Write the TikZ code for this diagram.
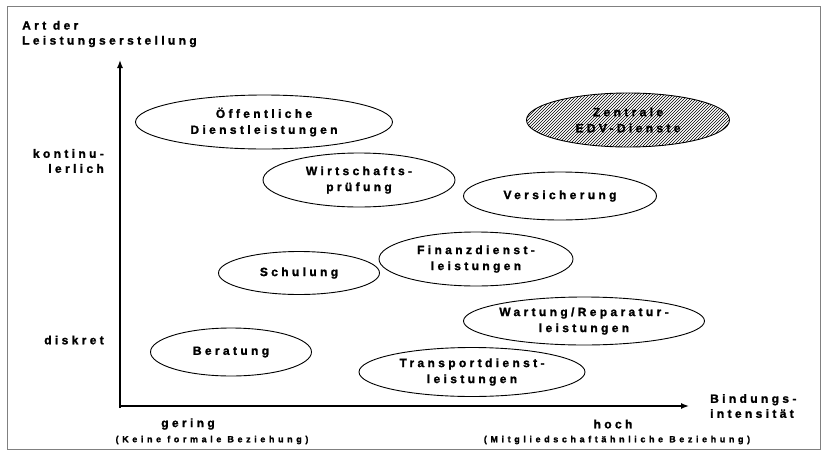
\documentclass[tikz,border=0pt]{standalone}
\usepackage{fontspec}
\setmainfont{Liberation Sans}[UprightFont={* Bold},BoldFont={* Bold},LetterSpace=28,FakeBold=1.5]
\newfontfamily\smallfont{Liberation Sans}[UprightFont={* Bold},BoldFont={* Bold},LetterSpace=40,FakeBold=1.5]
\usetikzlibrary{shapes.geometric,arrows.meta,patterns}
\begin{document}
\begin{tikzpicture}[x=1pt,y=-1pt,
  lbl/.style={font=\fontsize{12}{15}\selectfont,inner sep=0pt,align=center},
  sml/.style={font=\smallfont\fontsize{9}{9}\selectfont,inner sep=0pt},
  ell/.style={ellipse,draw,line width=0.9pt,inner sep=0pt,font=\fontsize{12}{16}\selectfont,align=center},
  axis/.style={line width=1.4pt,-{Latex[length=8pt,width=6pt]}}]
\useasboundingbox (0,0) rectangle (822,453);
\draw[gray,line width=0.8pt] (7,6) rectangle (820,449);
% axes
\coordinate (O) at (120,406);
\coordinate (ytip) at (120,60);
\coordinate (xtip) at (689,406);
\coordinate (ybot) at (120,408);
\draw[axis] (ybot) -- (ytip);
\draw[axis] (O) -- (xtip);
% axis labels
\node[lbl,anchor=west,align=left] (ylab) at (22,34) {Art der\\Leistungserstellung};
\node[lbl,anchor=east,align=right] (kont) at (104,161) {kontinu-\\lerlich};
\node[lbl,anchor=east] (disk) at (104,340) {diskret};
\node[lbl,anchor=west,align=left] (xlab) at (710,406) {Bindungs-\\intensität};
\node[lbl] (ger) at (188,424) {gering};
\node[sml] (gerb) at (212,440) {(Keine formale Beziehung)};
\node[lbl] (hoch) at (613,424) {hoch};
\node[sml] (hochb) at (617,440) {(Mitgliedschaftähnliche Beziehung)};
% ellipses
\node[ell,minimum width=257,minimum height=54] (oef) at (264,122) {Öffentliche\\Dienstleistungen};
\node[ell,minimum width=203,minimum height=54,pattern=north east lines] (edv) at (628,120) {Zentrale\\EDV-Dienste};
\node[ell,minimum width=192,minimum height=54] (wp) at (359,180) {Wirtschafts-\\prüfung};
\node[ell,minimum width=193,minimum height=48] (vers) at (560,196) {Versicherung};
\node[ell,minimum width=194,minimum height=54] (fin) at (476,259) {Finanzdienst-\\leistungen};
\node[ell,minimum width=161,minimum height=43] (sch) at (299,273) {Schulung};
\node[ell,minimum width=241,minimum height=48] (wart) at (584,321) {Wartung/Reparatur-\\leistungen};
\node[ell,minimum width=161,minimum height=48] (ber) at (231,352) {Beratung};
\node[ell,minimum width=226,minimum height=49] (trans) at (472,372) {Transportdienst-\\leistungen};
\end{tikzpicture}
\end{document}
